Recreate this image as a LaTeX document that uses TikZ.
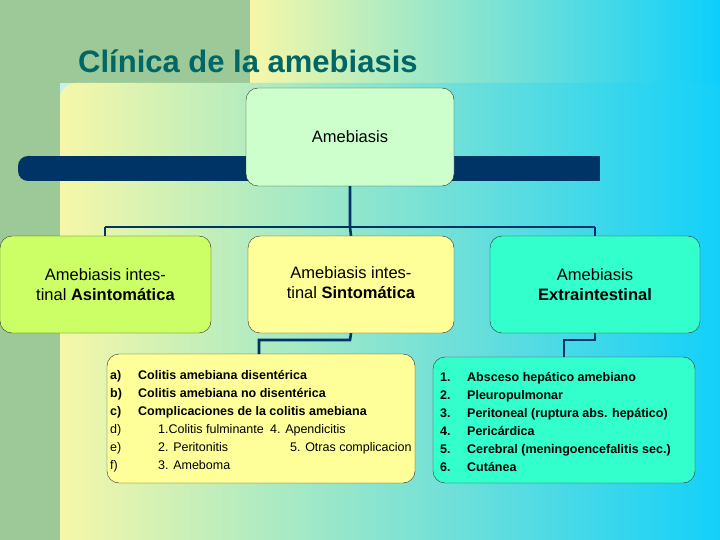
\documentclass[tikz,border=0pt]{standalone}
\usepackage{fontspec}
\setmainfont{Liberation Sans}
\definecolor{navy}{HTML}{003366}
\definecolor{bgY}{HTML}{F6F7A8}
\definecolor{bgC}{HTML}{0CCFFC}
\definecolor{bgG}{HTML}{9CC997}
\definecolor{cTop}{HTML}{CCFFCC}
\definecolor{cB1}{HTML}{CCFF66}
\definecolor{cB2}{HTML}{FFFF99}
\definecolor{cB3}{HTML}{33FFCC}
\definecolor{ttl}{HTML}{006666}
\begin{document}
\begin{tikzpicture}[x=1pt,y=-1pt,
  box/.style={draw=black!80,rounded corners=12pt,align=center,font=\fontsize{16.5}{19.5}\selectfont,inner sep=0pt},
  conn/.style={draw=navy,line width=2.6pt},
  it/.style={anchor=base west,font=\fontsize{12.5}{14}\selectfont,inner sep=0pt}]
\useasboundingbox (0,0) rectangle (720,540);
\begin{scope}[y=1pt]
\shade[left color=bgY!60!bgC!40, right color=bgC] (0,-540) rectangle (720,0);
\shade[left color=bgY, right color=bgC] (250,-83) rectangle (720,0);
\fill[bgG] (0,-540) rectangle (60,0);
\fill[bgG] (0,-83) rectangle (250,0);
\shade[left color=bgY, right color=bgC,rounded corners=16pt] (60,-560) rectangle (740,-83);
\end{scope}
\node[anchor=base west,text=ttl,font=\fontsize{31}{34}\selectfont\bfseries,inner sep=0pt] (title) at (78,73) {Clínica de la amebiasis};
\fill[navy, rounded corners=10pt] (18,156) rectangle (40,181);
\fill[navy] (30,156) rectangle (600,181);
\node[box,fill=cTop,minimum width=208pt,minimum height=98pt] (top) at (350,137) {Amebiasis};
\node[box,fill=cB1,minimum width=211pt,minimum height=97pt] (b1) at (105.5,284.5) {Amebiasis intes-\\tinal \textbf{Asintomática}};
\node[box,fill=cB2,minimum width=206pt,minimum height=97pt] (b2) at (351,284.5) {\raisebox{12pt}{\begin{tabular}{@{}c@{}}Amebiasis intes-\\tinal \textbf{Sintomática}\end{tabular}}};
\node[box,fill=cB3,minimum width=210pt,minimum height=97pt] (b3) at (595,284.5) {Amebiasis\\\textbf{Extraintestinal}};
\node[box,fill=cB2,minimum width=308pt,minimum height=129pt] (l1) at (261,418.5) {};
\node[box,fill=cB3,minimum width=262pt,minimum height=126pt] (l2) at (564,420) {};
\coordinate (h1) at (105,227); \coordinate (h3) at (595,227);
\draw[conn] (top.south) -- (350,227) -- (b2.north);
\draw[conn] (h1) -- (h3);
\draw[conn] (h1) -- (h1|-b1.north);
\draw[conn] (h3) -- (h3|-b3.north);
\draw[conn] (b2.south) -- (350,340) -- (259,340) -- (259,354);
\draw[conn] (b3.south) -- (595,340) -- (564,340) -- (564,357);
\foreach \l/\t/\y in {a)/Colitis amebiana disentérica/379,b)/Colitis amebiana no disentérica/397,c)/Complicaciones de la colitis amebiana/415}{
  \node[it,font=\fontsize{12.5}{14}\selectfont\bfseries] at (110,\y) {\l};
  \node[it,font=\fontsize{12.5}{14}\selectfont\bfseries] at (138,\y) {\t};}
\node[it] at (110,433) {d)}; \node[it] at (110,451) {e)}; \node[it] at (110,469) {f)};
\node[it] at (158,433) {1.Colitis fulminante}; \node[it] at (270,433) {4. Apendicitis};
\node[it] at (158,451) {2. Peritonitis}; \node[it] at (290,451) {5. Otras complicacion};
\node[it] at (158,469) {3. Ameboma};
\foreach \n/\t/\y in {1/Absceso hepático amebiano/381,2/Pleuropulmonar/399,3/Peritoneal (ruptura abs. hepático)/417,4/Pericárdica/435,5/Cerebral (meningoencefalitis sec.)/453,6/Cutánea/471}{
  \node[it,font=\fontsize{12.5}{14}\selectfont\bfseries] at (440,\y) {\n.};
  \node[it,font=\fontsize{12.5}{14}\selectfont\bfseries] at (467,\y) {\t};}
\end{tikzpicture}
\end{document}
